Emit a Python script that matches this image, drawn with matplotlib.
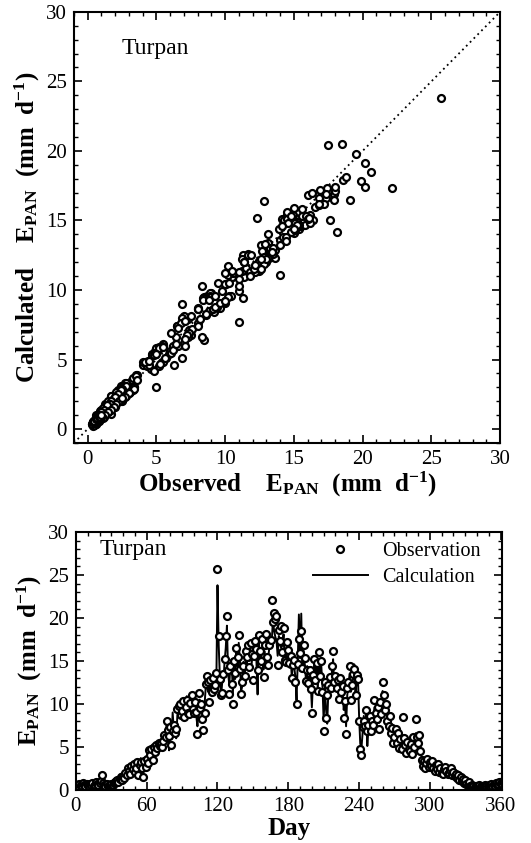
import numpy as np
import matplotlib
matplotlib.use('Agg')
import matplotlib.pyplot as plt
from matplotlib.ticker import MultipleLocator

plt.rcParams['font.family'] = 'Liberation Serif'
plt.rcParams['mathtext.fontset'] = 'custom'
plt.rcParams['mathtext.rm'] = 'Liberation Serif'
plt.rcParams['mathtext.bf'] = 'Liberation Serif:bold'
plt.rcParams['mathtext.it'] = 'Liberation Serif:italic'

station = 'Turpan'

# daily pan evaporation, day 1..365 (mm/d)
observed = [
    0.6, 0.5, 0.7, 0.6, 0.5, 0.8, 0.6, 0.5, 0.7, 0.6,
    0.5, 0.7, 0.6, 0.8, 0.5, 0.6, 0.9, 0.7, 0.6, 0.8,
    1.0, 1.7, 0.8, 0.6, 0.5, 0.7, 0.4, 0.5, 0.6, 0.7,
    0.6, 0.8, 0.9, 1.0, 1.2, 0.9, 1.3, 1.5, 1.1, 1.6,
    1.4, 2.0, 1.7, 2.5, 2.2, 1.8, 2.8, 2.4, 3.0, 2.1,
    2.6, 3.2, 1.7, 2.9, 3.3, 2.5, 1.5, 3.4, 2.7, 3.6,
    3.1, 4.6, 4.0, 4.8, 3.5, 5.0, 4.4, 5.2, 4.9, 5.4,
    5.1, 5.5, 5.0, 5.7, 6.4, 6.1, 8.0, 7.0, 6.3, 7.3,
    5.2, 6.9, 7.5, 6.6, 7.1, 9.4, 9.8, 10.0, 8.7, 9.2,
    10.3, 8.5, 9.6, 10.5, 9.0, 8.8, 10.1, 11.0, 9.4, 8.9,
    10.2, 9.1, 6.5, 11.3, 9.5, 10.0, 8.3, 7.0, 8.9, 12.3,
    13.2, 12.5, 10.2, 12.8, 11.4, 13.0, 11.7, 12.2, 13.6, 25.7,
    17.9, 12.9, 11.0, 11.3, 13.5, 15.2, 17.9, 20.2, 14.0, 11.2,
    14.4, 12.3, 10.0, 15.0, 13.6, 16.5, 15.4, 18.0, 14.1, 11.2,
    12.5, 14.4, 13.2, 16.2, 15.5, 16.9, 14.3, 17.1, 15.8, 12.8,
    15.6, 17.3, 16.4, 14.0, 18.0, 16.2, 15.0, 17.6, 13.1, 16.8,
    18.1, 15.4, 14.5, 16.8, 17.4, 22.1, 19.5, 20.6, 19.9, 20.2,
    14.5, 18.6, 17.3, 19.1, 16.0, 18.8, 15.1, 14.9, 17.2, 16.3,
    14.8, 15.6, 13.0, 14.5, 15.1, 12.6, 10.0, 14.6, 17.5, 15.9,
    18.5, 14.2, 16.8, 15.3, 12.7, 13.9, 12.4, 14.0, 11.7, 8.9,
    13.4, 15.2, 12.8, 14.8, 11.5, 16.0, 13.3, 15.0, 11.4, 6.9,
    12.5, 8.4, 11.0, 12.2, 13.1, 11.8, 14.4, 16.1, 12.6, 13.3,
    11.9, 12.8, 10.6, 13.0, 11.4, 12.1, 8.4, 10.3, 6.5, 11.8,
    12.6, 14.4, 10.5, 12.2, 13.5, 14.1, 11.0, 13.4, 12.9, 8.0,
    4.7, 4.0, 7.3, 8.0, 7.4, 9.3, 6.9, 7.6, 8.6, 6.8,
    8.0, 7.5, 10.4, 9.0, 8.2, 9.6, 7.1, 10.2, 8.8, 12.6,
    11.0, 9.3, 10.0, 8.0, 7.4, 8.6, 6.6, 7.2, 5.5, 6.2,
    7.1, 5.4, 6.6, 4.9, 5.9, 4.7, 8.5, 6.0, 5.2, 4.3,
    5.6, 4.8, 4.5, 5.3, 4.2, 6.1, 5.0, 8.3, 6.2, 5.5,
    6.4, 4.5, 3.5, 2.8, 3.4, 2.6, 3.1, 3.6, 2.7, 3.3,
    2.8, 3.4, 2.5, 2.2, 2.9, 2.4, 3.0, 2.1, 2.6, 2.0,
    1.8, 2.4, 2.7, 2.2, 1.9, 2.0, 2.3, 2.5, 1.7, 2.1,
    1.6, 1.9, 1.4, 1.7, 1.2, 1.5, 1.0, 1.3, 0.8, 1.1,
    0.7, 0.6, 0.9, 0.5, 0.4, 0.6, 0.5, 0.3, 0.4, 0.5,
    0.4, 0.6, 0.5, 0.3, 0.5, 0.4, 0.6, 0.5, 0.4, 0.6,
    0.5, 0.7, 0.4, 0.6, 0.5, 0.8, 0.6, 0.7, 0.9, 0.8,
    0.7, 1.0, 0.8, 0.9, 1.0,
]

calculated = [
    0.9, 0.3, 0.6, 1.0, 0.4, 0.6, 0.9, 0.3, 0.5, 0.8,
    0.4, 0.9, 0.5, 1.0, 0.3, 0.8, 1.2, 0.6, 0.4, 0.9,
    1.3, 1.1, 0.7, 0.4, 0.6, 0.9, 0.2, 0.6, 0.8, 0.5,
    0.9, 0.6, 1.2, 1.4, 0.9, 1.3, 1.8, 1.2, 1.5, 2.1,
    1.9, 1.6, 2.4, 2.0, 2.8, 2.3, 2.4, 3.1, 2.6, 2.7,
    2.2, 3.5, 2.4, 2.5, 3.7, 2.1, 2.0, 3.0, 3.3, 3.9,
    2.8, 4.3, 4.6, 4.2, 3.9, 3.0, 4.9, 4.5, 5.6, 4.8,
    5.7, 4.8, 5.8, 5.1, 6.6, 6.9, 7.6, 6.2, 4.6, 7.9,
    5.9, 9.0, 6.8, 7.4, 6.0, 8.7, 9.9, 9.1, 9.6, 8.4,
    9.6, 9.5, 8.7, 10.9, 9.8, 8.5, 10.4, 9.9, 8.8, 9.7,
    11.1, 8.6, 7.4, 9.4, 10.5, 9.2, 10.3, 8.1, 9.8, 11.9,
    12.3, 11.4, 11.7, 12.4, 10.9, 12.0, 12.6, 11.3, 12.3, 23.8,
    16.9, 13.2, 10.8, 12.5, 12.6, 14.9, 16.5, 19.1, 13.6, 12.2,
    14.8, 15.2, 11.2, 14.1, 12.9, 16.0, 14.4, 17.1, 15.1, 11.4,
    12.1, 14.9, 13.0, 15.4, 14.6, 17.2, 15.0, 16.3, 14.7, 16.4,
    15.3, 16.6, 15.0, 11.1, 17.4, 14.8, 15.9, 15.0, 14.0, 16.1,
    14.2, 14.7, 15.4, 16.6, 17.3, 17.3, 19.8, 18.5, 17.8, 17.4,
    15.6, 17.9, 16.9, 16.5, 16.8, 18.1, 14.8, 15.4, 16.2, 17.0,
    14.2, 15.8, 12.9, 15.1, 14.3, 13.2, 10.4, 14.8, 20.4, 15.3,
    20.5, 13.8, 16.2, 14.6, 12.8, 14.4, 11.9, 13.2, 12.5, 9.6,
    12.8, 14.7, 12.4, 15.3, 11.6, 15.1, 12.8, 14.4, 12.0, 8.0,
    12.0, 9.4, 7.7, 11.6, 13.4, 11.3, 13.8, 15.2, 11.9, 13.0,
    12.5, 11.9, 11.2, 12.2, 12.0, 11.5, 9.3, 10.5, 7.4, 11.0,
    12.2, 13.5, 11.4, 11.8, 13.0, 14.6, 11.3, 12.7, 13.3, 8.7,
    5.4, 4.8, 6.6, 8.6, 7.1, 8.8, 5.1, 7.2, 8.2, 7.6,
    7.4, 8.1, 9.6, 9.5, 7.9, 9.1, 7.8, 9.5, 9.3, 11.5,
    10.3, 9.6, 9.2, 8.6, 6.9, 8.3, 7.3, 6.8, 6.1, 6.0,
    6.5, 6.0, 6.0, 5.5, 5.4, 5.3, 6.4, 5.6, 5.8, 4.5,
    5.1, 5.3, 4.6, 4.7, 4.8, 5.5, 5.4, 6.6, 5.7, 5.9,
    6.1, 4.9, 3.8, 3.3, 3.0, 3.1, 2.7, 3.5, 3.1, 2.8,
    3.1, 2.9, 2.9, 2.3, 2.5, 2.8, 2.6, 2.4, 2.2, 2.3,
    2.1, 2.0, 2.3, 2.5, 1.8, 2.3, 2.0, 2.2, 2.0, 1.8,
    1.8, 1.6, 1.7, 1.4, 1.4, 1.2, 1.2, 1.0, 1.0, 0.8,
    0.8, 0.6, 0.7, 0.6, 0.5, 0.5, 0.6, 0.4, 0.5, 0.5,
    0.5, 0.5, 0.5, 0.4, 0.5, 0.5, 0.5, 0.5, 0.5, 0.5,
    0.6, 0.6, 0.5, 0.6, 0.6, 0.7, 0.7, 0.7, 0.8, 0.8,
    0.8, 0.9, 0.9, 0.9, 1.0,
]

days = np.arange(1, len(observed) + 1)
one_to_one = [-1, 30]

fig = plt.figure(figsize=(5.31, 8.43), dpi=100)
ax1 = fig.add_axes([0.139, 0.4745, 0.803, 0.5115])
ax2 = fig.add_axes([0.143, 0.063, 0.802, 0.306])

tick_kw = dict(direction='in', top=True, right=True)
for ax in (ax1, ax2):
    ax.tick_params(which='major', length=6, width=1.2, labelsize=15, pad=5, **tick_kw)
    ax.tick_params(which='minor', length=3, width=1.0, **tick_kw)
    for s in ax.spines.values():
        s.set_linewidth(1.5)

mk = dict(mfc='white', mec='black', ms=5, mew=1.6)

# top: scatter
ax1.plot(one_to_one, one_to_one, color='black', ls=(0, (1, 2)), lw=1.3)
ax1.plot(observed, calculated, 'o', **mk)
ax1.set_xlim(-1, 30)
ax1.set_ylim(-1, 30)
ax1.xaxis.set_major_locator(MultipleLocator(5))
ax1.yaxis.set_major_locator(MultipleLocator(5))
ax1.xaxis.set_minor_locator(MultipleLocator(1))
ax1.yaxis.set_minor_locator(MultipleLocator(1))
ax1.text(0.113, 0.916, station, transform=ax1.transAxes, fontsize=17, va='center')
ax1.set_xlabel(r'Observed    $\mathbf{E_{PAN}}$  (mm  d$^{\mathbf{-1}}$)',
               fontsize=18, fontweight='bold', labelpad=1)
ax1.set_ylabel(r'Calculated    $\mathbf{E_{PAN}}$  (mm  d$^{\mathbf{-1}}$)',
               fontsize=18, fontweight='bold', labelpad=3)

# bottom: time series
ax2.plot(days, calculated, color='black', lw=1.4, label='Calculation')
ax2.plot(days, observed, 'o', label='Observation', **mk)
ax2.set_xlim(0, 361)
ax2.set_ylim(0, 30)
ax2.xaxis.set_major_locator(MultipleLocator(60))
ax2.xaxis.set_minor_locator(MultipleLocator(10))
ax2.yaxis.set_major_locator(MultipleLocator(5))
ax2.yaxis.set_minor_locator(MultipleLocator(1))
ax2.text(0.056, 0.93, station, transform=ax2.transAxes, fontsize=17, va='center')
handles, labels = ax2.get_legend_handles_labels()
ax2.legend(handles[::-1], labels[::-1], loc='upper right', frameon=False,
           fontsize=14.5, handlelength=2.75, handletextpad=0.7,
           bbox_to_anchor=(0.993, 1.031), labelspacing=0.35)
ax2.set_xlabel('Day', fontsize=18, fontweight='bold', labelpad=1)
ax2.set_ylabel(r'$\mathbf{E_{PAN}}$  (mm  d$^{\mathbf{-1}}$)',
               fontsize=18, fontweight='bold', labelpad=3)

fig.savefig('out.png', dpi=100)
